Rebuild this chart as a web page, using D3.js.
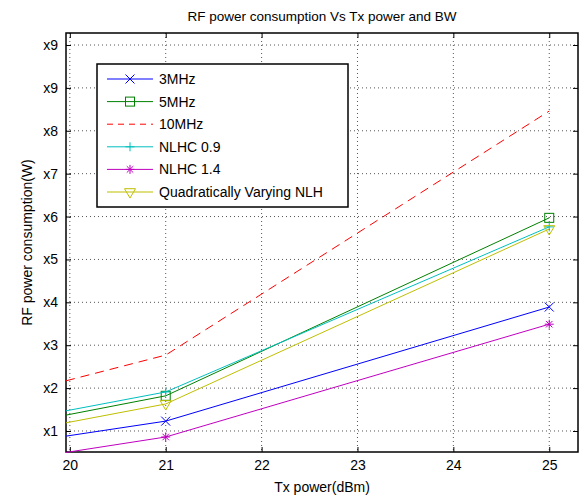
<!DOCTYPE html>
<html>
<head>
<meta charset="utf-8">
<script src="https://cdn.jsdelivr.net/npm/d3@7"></script>
<style>
  body { margin: 0; background: #fff; }
  svg { font-family: "Liberation Sans", Arial, sans-serif; }
</style>
</head>
<body>
<script>
// data
const txPower = [19.96, 21, 25];
const markAt = [false, true, true];

const seriesNames = ['3MHz', '5MHz', '10MHz', 'NLHC 0.9', 'NLHC 1.4', 'Quadratically Varying NLH'];
const mhz3 = [0.88, 1.23, 3.89];
const mhz5 = [1.37, 1.82, 5.97];
const mhz10 = [2.17, 2.77, 8.46];
const nlhc09 = [1.47, 1.91, 5.76];
const nlhc14 = [0.50, 0.86, 3.49];
const quadNlh = [1.19, 1.63, 5.71];

const xTicks = [20, 21, 22, 23, 24, 25];
const yTicks = [1, 2, 3, 4, 5, 6, 7, 8, 9, 10];
const yTickLabels = ['x1', 'x2', 'x3', 'x4', 'x5', 'x6', 'x7', 'x8', 'x9', 'x9'];

const series = [
  { name: seriesNames[0], values: mhz3, color: '#0000ff', marker: 'x' },
  { name: seriesNames[1], values: mhz5, color: '#008000', marker: 'square' },
  { name: seriesNames[2], values: mhz10, color: '#ff0000', marker: null, dash: '9,6' },
  { name: seriesNames[3], values: nlhc09, color: '#00bfbf', marker: 'plus' },
  { name: seriesNames[4], values: nlhc14, color: '#bf00bf', marker: 'star' },
  { name: seriesNames[5], values: quadNlh, color: '#bfbf00', marker: 'tri' }
];

const W = 581, H = 495;
const m = { left: 66, right: 3, top: 33, bottom: 43 };
const iw = W - m.left - m.right, ih = H - m.top - m.bottom;

const svg = d3.select('body').append('svg')
  .attr('width', W).attr('height', H);

const x = d3.scaleLinear().domain([19.96, 25.3]).range([0, iw]);
const y = d3.scaleLinear().domain([0.51, 10.28]).range([ih, 0]);

const g = svg.append('g').attr('transform', `translate(${m.left},${m.top})`);

// grid
g.append('g').selectAll('line').data(xTicks).join('line')
  .attr('x1', d => x(d)).attr('x2', d => x(d))
  .attr('y1', 0).attr('y2', ih)
  .attr('stroke', '#555').attr('stroke-width', 1).attr('stroke-dasharray', '1,3');
g.append('g').selectAll('line').data(yTicks).join('line')
  .attr('y1', d => y(d)).attr('y2', d => y(d))
  .attr('x1', 0).attr('x2', iw)
  .attr('stroke', '#555').attr('stroke-width', 1).attr('stroke-dasharray', '1,3');

// axes
const xAxis = g.append('g').attr('transform', `translate(0,${ih})`)
  .call(d3.axisBottom(x).tickValues(xTicks).tickSize(-5).tickPadding(8).tickFormat(d3.format('d')));
const xTop = g.append('g')
  .call(d3.axisTop(x).tickValues(xTicks).tickSize(-5).tickFormat(''));
const yAxis = g.append('g')
  .call(d3.axisLeft(y).tickValues(yTicks).tickSize(-5).tickPadding(8)
    .tickFormat((d, i) => yTickLabels[i]));
const yRight = g.append('g').attr('transform', `translate(${iw},0)`)
  .call(d3.axisRight(y).tickValues(yTicks).tickSize(-5).tickFormat(''));

[xAxis, xTop, yAxis, yRight].forEach(a => {
  a.select('.domain').remove();
  a.selectAll('line').attr('stroke', '#000');
  a.selectAll('text').attr('fill', '#000').style('font-size', '14px');
});

g.append('rect').attr('width', iw).attr('height', ih)
  .attr('fill', 'none').attr('stroke', '#000').attr('stroke-width', 1.5);

// markers
function drawMarker(sel, type, color) {
  const s = 4.5;
  if (type === 'x') {
    sel.append('path').attr('d', `M${-s},${-s}L${s},${s}M${-s},${s}L${s},${-s}`)
      .attr('stroke', color).attr('fill', 'none');
  } else if (type === 'square') {
    sel.append('rect').attr('x', -s).attr('y', -s).attr('width', 2 * s).attr('height', 2 * s)
      .attr('stroke', color).attr('fill', 'none');
  } else if (type === 'plus') {
    sel.append('path').attr('d', `M${-s},0L${s},0M0,${-s}L0,${s}`)
      .attr('stroke', color).attr('fill', 'none');
  } else if (type === 'star') {
    const t = s * 0.72;
    sel.append('path').attr('d', `M${-s},0L${s},0M0,${-s}L0,${s}M${-t},${-t}L${t},${t}M${-t},${t}L${t},${-t}`)
      .attr('stroke', color).attr('fill', 'none');
  } else if (type === 'tri') {
    const r = 5.5;
    sel.append('path').attr('d', `M${-r},${-r * 0.6}L${r},${-r * 0.6}L0,${r * 1.1}Z`)
      .attr('stroke', color).attr('fill', 'none');
  }
}

const plot = g.append('g');
const line = d3.line().x((d, i) => x(txPower[i])).y(d => y(d));

series.forEach(s => {
  plot.append('path').datum(s.values)
    .attr('d', line)
    .attr('fill', 'none')
    .attr('stroke', s.color)
    .attr('stroke-width', 1)
    .attr('stroke-dasharray', s.dash || null);
  if (s.marker) {
    s.values.forEach((v, i) => {
      if (!markAt[i]) return;
      const mg = plot.append('g').attr('transform', `translate(${x(txPower[i])},${y(v)})`);
      drawMarker(mg, s.marker, s.color);
    });
  }
});

// legend
const lg = svg.append('g').attr('transform', 'translate(97,64)');
lg.append('rect').attr('width', 251).attr('height', 143)
  .attr('fill', '#fff').attr('stroke', '#000').attr('stroke-width', 1.5);
series.forEach((s, i) => {
  const yy = 15 + i * 22.6;
  lg.append('line').attr('x1', 10).attr('x2', 56).attr('y1', yy).attr('y2', yy)
    .attr('stroke', s.color).attr('stroke-width', 1)
    .attr('stroke-dasharray', s.dash ? '6,5' : null);
  if (s.marker) {
    const mg = lg.append('g').attr('transform', `translate(33,${yy})`);
    drawMarker(mg, s.marker, s.color);
  }
  lg.append('text').attr('x', 62).attr('y', yy).attr('dy', '0.35em')
    .style('font-size', '14px').text(s.name);
});

// titles
svg.append('text').attr('x', m.left + iw / 2).attr('y', 21)
  .attr('text-anchor', 'middle').style('font-size', '13.5px')
  .text('RF power consumption Vs Tx power and BW');
svg.append('text').attr('x', m.left + iw / 2).attr('y', 492)
  .attr('text-anchor', 'middle').style('font-size', '14px')
  .text('Tx power(dBm)');
svg.append('text')
  .attr('transform', `translate(32,${m.top + ih / 2}) rotate(-90)`)
  .attr('text-anchor', 'middle').style('font-size', '14px')
  .text('RF power consumption(W)');
</script>
</body>
</html>
